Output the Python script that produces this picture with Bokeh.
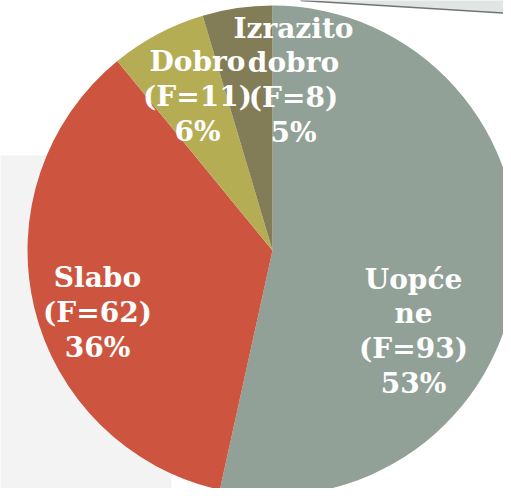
import numpy as np
from bokeh.plotting import figure
from bokeh.models import Range1d, ColumnDataSource
from bokeh.core.properties import value
from bokeh.embed import file_html
from bokeh.resources import INLINE

# ---- data ----
categories = ["Uopće\nne", "Slabo", "Dobro", "Izrazito\ndobro"]
counts = [93, 62, 11, 8]
colors = ["#92a197", "#cd5540", "#b5ad53", "#837d57"]

# ---- layout (reference pixel space; data y = H - pixel y) ----
W, H = 503, 488
def py(y):
    return H - y

cx, cy, r = 272, py(250), 245
label_pos = [(413, 331), (97, 312), (197, 96), (293, 80)]

p = figure(width=W, height=H, output_backend="svg", toolbar_location=None,
           x_range=Range1d(0, W), y_range=Range1d(0, H),
           min_border=0, background_fill_color="white",
           border_fill_color="white")
p.axis.visible = False
p.grid.visible = False
p.outline_line_color = None

# background decorations
p.quad(left=[-10], right=[171], bottom=[py(600)], top=[py(155)],
       fill_color="#f3f3f3", line_color=None)
p.patch(x=[300, 520, 520, 300], y=[py(0), py(13.5), py(-20), py(-20)],
        fill_color="#e1e5e3", line_color=None)
p.line(x=[300, 520], y=[py(0), py(13.5)], line_color="#6f7670", line_width=1.5)

total = sum(counts)
fracs = np.array(counts) / total
ends = np.pi / 2 - np.cumsum(fracs) * 2 * np.pi
starts = np.concatenate([[np.pi / 2], ends[:-1]])

src = ColumnDataSource(dict(start=ends, end=starts, color=colors))
p.wedge(x=cx, y=cy, radius=r, start_angle="start", end_angle="end",
        fill_color="color", line_color=None, source=src)

texts = [f"{c}\n(F={n})\n{round(f*100):.0f}%" for c, n, f in zip(categories, counts, fracs)]
lsrc = ColumnDataSource(dict(x=[q[0] for q in label_pos], y=[py(q[1]) for q in label_pos], t=texts))
p.text(x="x", y="y", text="t", source=lsrc, text_align="center",
       text_baseline="middle", text_color="white",
       text_font=value("DejaVu Serif"), text_font_style="bold",
       text_font_size="28px", text_line_height=1.06)

open("out.html", "w").write(file_html(p, INLINE))
